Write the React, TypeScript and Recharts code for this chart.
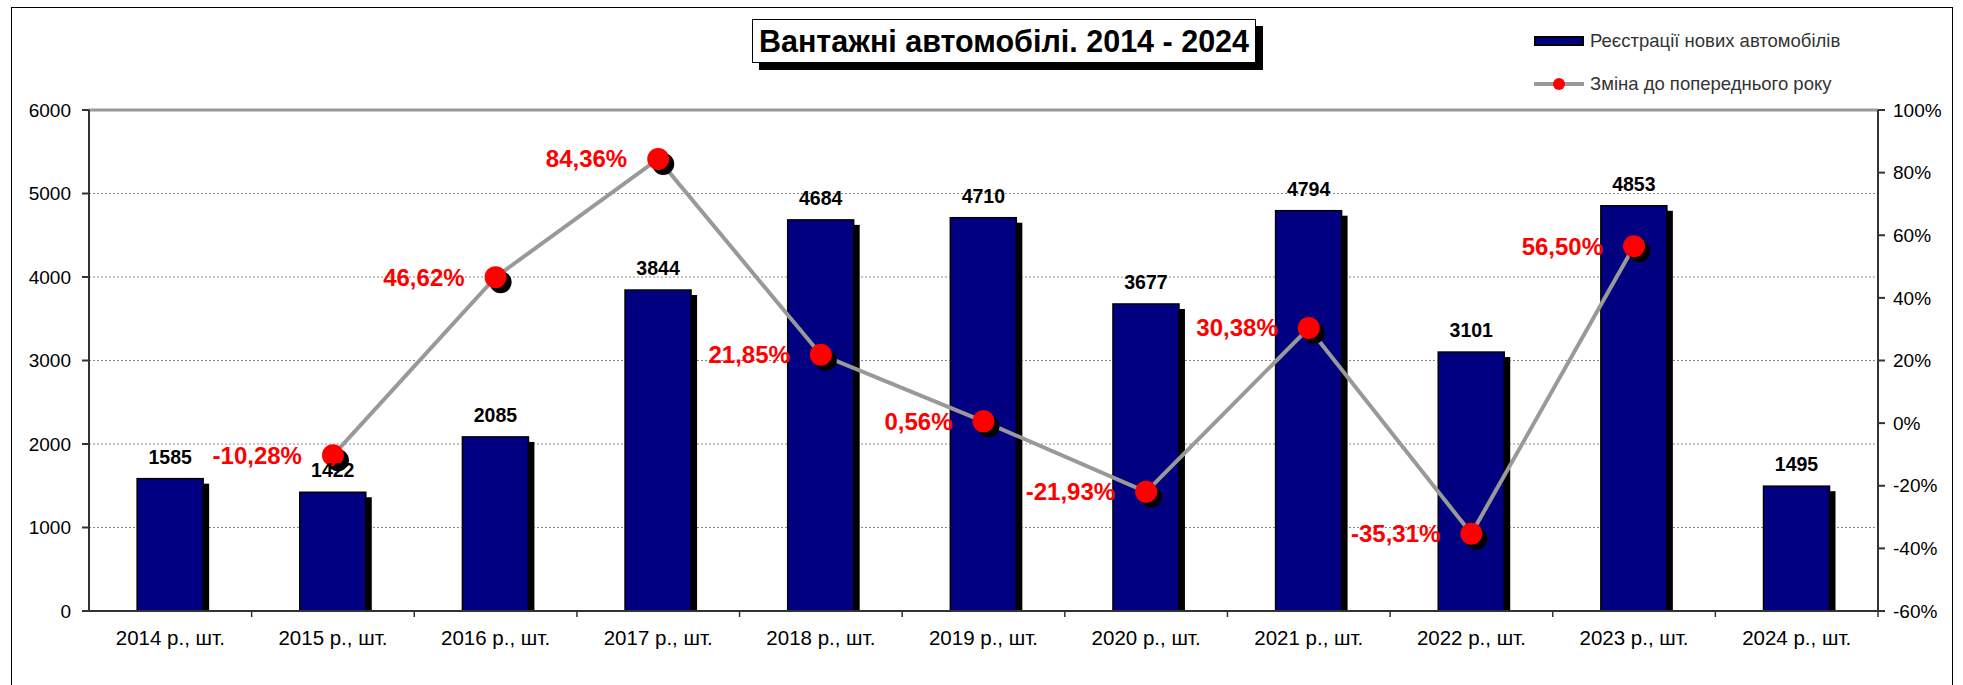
import React from 'react';
import {
  ComposedChart,
  Bar,
  Line,
  XAxis,
  YAxis,
  CartesianGrid,
  LabelList,
  ReferenceLine,
} from 'recharts';

const categories = [
  '2014 р., шт.',
  '2015 р., шт.',
  '2016 р., шт.',
  '2017 р., шт.',
  '2018 р., шт.',
  '2019 р., шт.',
  '2020 р., шт.',
  '2021 р., шт.',
  '2022 р., шт.',
  '2023 р., шт.',
  '2024 р., шт.',
];
const registrations = [1585, 1422, 2085, 3844, 4684, 4710, 3677, 4794, 3101, 4853, 1495];
const changes: (number | null)[] = [null, -10.28, 46.62, 84.36, 21.85, 0.56, -21.93, 30.38, -35.31, 56.5, null];
const leftTicks = [0, 1000, 2000, 3000, 4000, 5000, 6000];
const rightTicks = [-60, -40, -20, 0, 20, 40, 60, 80, 100];

const data = categories.map((name, i) => ({
  name,
  reg: registrations[i],
  chg: changes[i],
}));

const FONT = '"Liberation Sans", Arial, sans-serif';
const NAVY = '#000080';

const fmtPct = (v: number) => v.toFixed(2).replace('.', ',') + '%';

// bar with a hard black drop shadow, like the old Excel look
const ShadowBar = (props: any) => {
  const { x, y, width, height } = props;
  if (height == null || height <= 0) return <g />;
  return (
    <g>
      <rect x={x + 6} y={y + 5} width={width} height={height - 5} fill="#000" />
      <rect x={x} y={y} width={width} height={height} fill={NAVY} stroke="#000" strokeWidth={1.5} />
    </g>
  );
};

const renderDot = (props: any) => {
  const { cx, cy, index, value } = props;
  if (cx == null || cy == null || value == null) return <g key={`d${index}`} />;
  return (
    <g key={`d${index}`}>
      <circle cx={cx + 5} cy={cy + 5} r={11} fill="#000" />
      <circle cx={cx} cy={cy} r={11} fill="#ff0000" />
    </g>
  );
};

const PctLabel = (props: any) => {
  const { x, y, value } = props;
  if (value == null || x == null) return null;
  return (
    <text
      x={x - 31}
      y={y}
      textAnchor="end"
      dominantBaseline="central"
      fill="#ff0000"
      fontSize={24}
      fontWeight="bold"
      fontFamily={FONT}
    >
      {fmtPct(value)}
    </text>
  );
};

const XTick = (props: any) => {
  const { x, y, payload, index, visibleTicksCount } = props;
  const half = payload.offset || 81.3;
  const axisY = y - 20;
  return (
    <g>
      {index > 0 && <line x1={x - half} x2={x - half} y1={axisY} y2={axisY + 6} stroke="#333" strokeWidth={1.5} />}
      {index === visibleTicksCount - 1 && (
        <line x1={x + half} x2={x + half} y1={axisY} y2={axisY + 6} stroke="#333" strokeWidth={1.5} />
      )}
      <text x={x} y={y - 1} dy="0.71em" textAnchor="middle" fontSize={20.5} fill="#000" fontFamily={FONT}>
        {payload.value}
      </text>
    </g>
  );
};

export default function App() {
  return (
    <div style={{ position: 'absolute', left: 0, top: 0, width: 1963, height: 685, background: '#fff', fontFamily: FONT }}>
      <div
        style={{
          position: 'absolute',
          left: 11,
          top: 7,
          width: 1942,
          height: 700,
          border: '1.5px solid #000',
          boxSizing: 'border-box',
        }}
      />
      <ComposedChart
        width={1963}
        height={685}
        data={data}
        margin={{ top: 110, right: 10, bottom: 34, left: 0 }}
        barCategoryGap="29.6%"
        style={{ position: 'absolute', left: 0, top: 0 }}
      >
        <CartesianGrid yAxisId="left" vertical={false} stroke="#888" strokeDasharray="2 2" />
        <XAxis
          dataKey="name"
          interval={0}
          tickLine={false}
          tickSize={6}
          tickMargin={14}
          height={40}
          stroke="#333"
          strokeWidth={2}
          tick={<XTick />}
        />
        <YAxis
          yAxisId="left"
          domain={[0, 6000]}
          ticks={leftTicks}
          width={89}
          tickSize={7}
          tickMargin={11}
          stroke="#333"
          strokeWidth={2}
          tick={{ fontSize: 19, fill: '#000', fontFamily: FONT }}
        />
        <YAxis
          yAxisId="right"
          orientation="right"
          domain={[-60, 100]}
          ticks={rightTicks}
          width={75}
          tickSize={7}
          tickMargin={8}
          stroke="#333"
          strokeWidth={2}
          tickFormatter={(v: number) => `${v}%`}
          tick={{ fontSize: 19, fill: '#000', fontFamily: FONT }}
        />
        <ReferenceLine yAxisId="left" y={6000} stroke="#999" strokeWidth={3} />
        <Bar yAxisId="left" dataKey="reg" shape={<ShadowBar />} isAnimationActive={false}>
          <LabelList
            dataKey="reg"
            position="top"
            offset={15}
            fill="#000"
            fontSize={19.5}
            fontWeight="bold"
            fontFamily={FONT}
          />
        </Bar>
        <Line
          yAxisId="right"
          dataKey="chg"
          stroke="#999"
          strokeWidth={4}
          dot={renderDot}
          activeDot={false}
          isAnimationActive={false}
        >
          <LabelList dataKey="chg" content={<PctLabel />} />
        </Line>
      </ComposedChart>

      {/* title box */}
      <div
        style={{
          position: 'absolute',
          left: 752,
          top: 19,
          width: 504,
          height: 44,
          border: '1.5px solid #000',
          boxSizing: 'border-box',
          background: '#fff',
          boxShadow: '7px 7px 0 #000',
          display: 'flex',
          alignItems: 'center',
          justifyContent: 'center',
          fontSize: 30.5,
          fontWeight: 'bold',
          color: '#000',
          whiteSpace: 'nowrap',
        }}
      >
        Вантажні автомобілі. 2014 - 2024
      </div>

      {/* legend */}
      <div style={{ position: 'absolute', left: 1534, top: 29, display: 'flex', alignItems: 'center', height: 24 }}>
        <div style={{ width: 50, height: 10, background: NAVY, border: '2px solid #000', boxSizing: 'border-box' }} />
        <span style={{ marginLeft: 6, fontSize: 18.5, color: '#333' }}>Реєстрації нових автомобілів</span>
      </div>
      <div style={{ position: 'absolute', left: 1534, top: 72, display: 'flex', alignItems: 'center', height: 24 }}>
        <svg width={50} height={16}>
          <line x1={0} x2={50} y1={8} y2={8} stroke="#999" strokeWidth={4} />
          <circle cx={25} cy={8} r={6} fill="#ff0000" />
        </svg>
        <span style={{ marginLeft: 6, fontSize: 18.5, color: '#333' }}>Зміна до попереднього року</span>
      </div>
    </div>
  );
}
